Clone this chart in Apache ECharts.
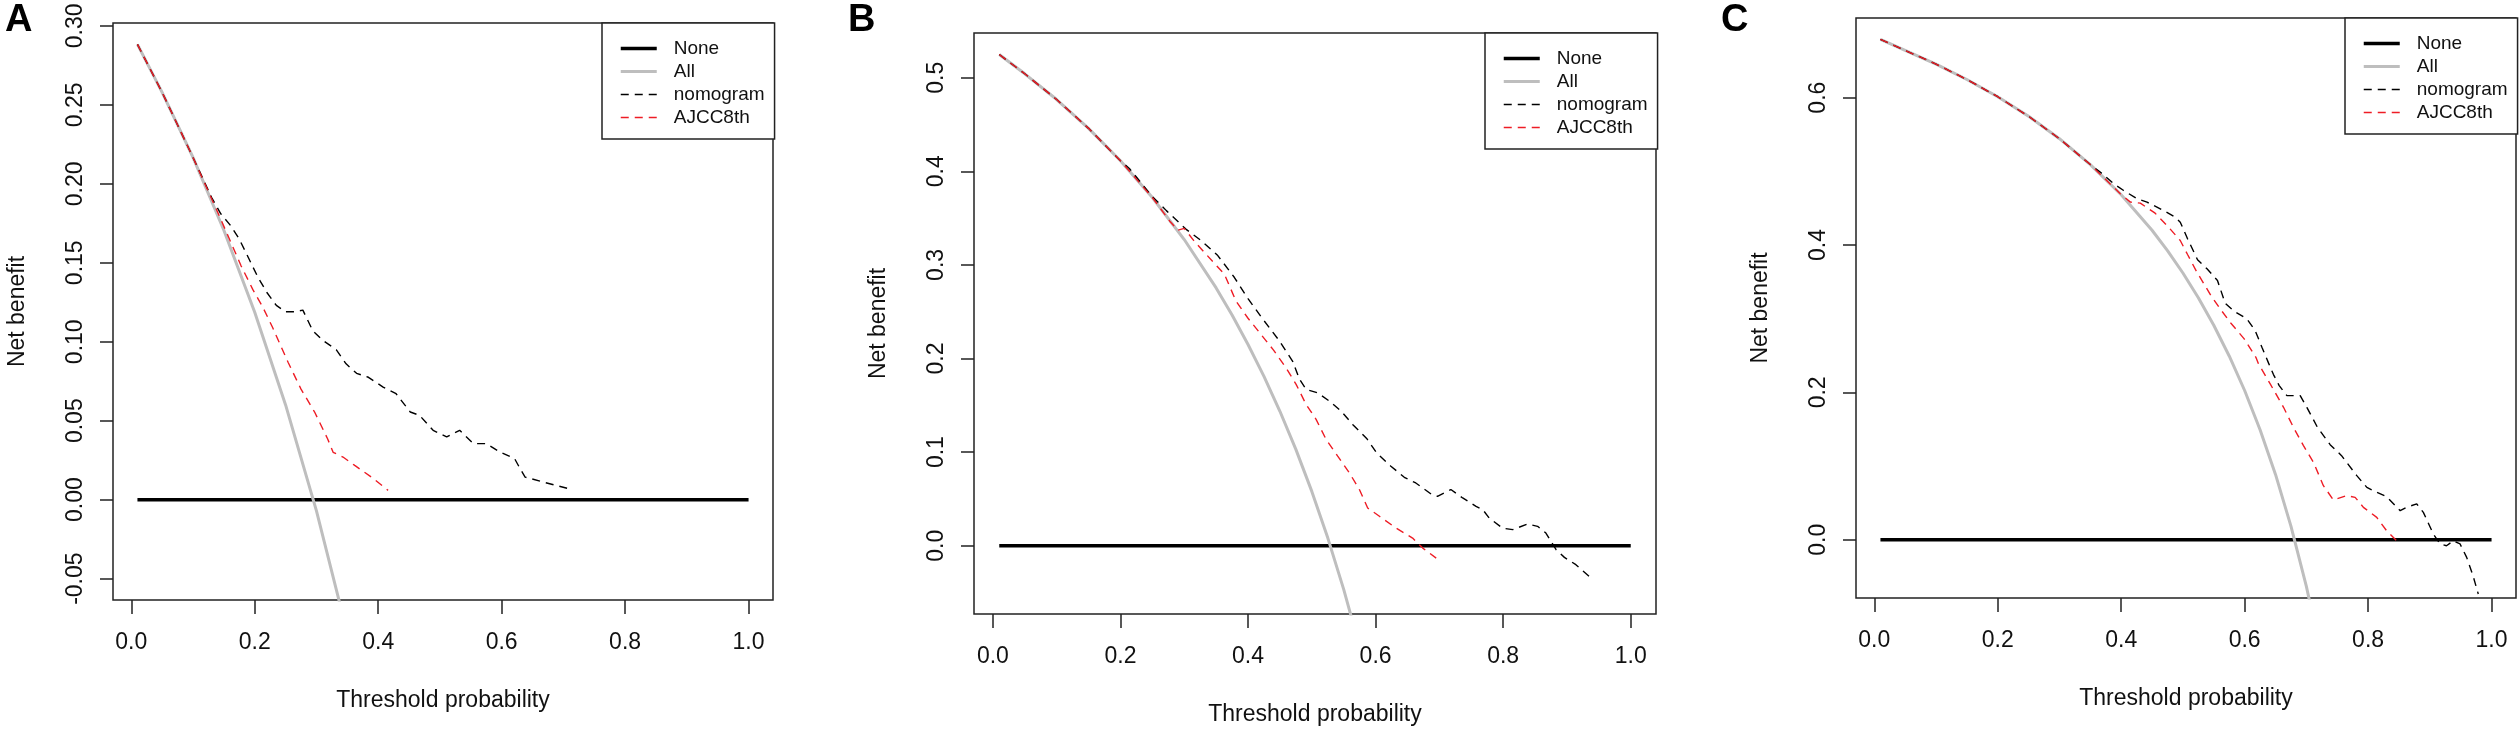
<!DOCTYPE html>
<html><head><meta charset="utf-8">
<script src="https://cdn.jsdelivr.net/npm/echarts@6/dist/echarts.min.js"></script>
<style>html,body{margin:0;padding:0;background:#fff}#c{width:2520px;height:733px}</style>
</head><body><div id="c"></div>
<script>
// ---------- data ----------
const X_TICKS = [0, 0.2, 0.4, 0.6, 0.8, 1.0];
const A_YTICKS = [-0.05, 0, 0.05, 0.10, 0.15, 0.20, 0.25, 0.30];
const B_YTICKS = [0, 0.1, 0.2, 0.3, 0.4, 0.5];
const C_YTICKS = [0, 0.2, 0.4, 0.6];
const SERIES_NAMES = ['None', 'All', 'nomogram', 'AJCC8th'];
const PANEL_LETTERS = ['A', 'B', 'C'];

const NONE_LINE = [[0.01, 0], [1.0, 0]];

const A_all = [[0.01,0.2883],[0.05,0.2579],[0.10,0.2167],[0.15,0.1706],[0.20,0.1187],[0.25,0.0600],[0.30,-0.0071],[0.35,-0.0846]];
const A_nom = [[0.01,0.2883],[0.05,0.2579],[0.10,0.2167],[0.13,0.1915],[0.145,0.181],[0.16,0.174],[0.175,0.165],[0.19,0.153],[0.205,0.141],[0.22,0.131],[0.235,0.123],[0.25,0.119],[0.265,0.119],[0.278,0.120],[0.294,0.107],[0.31,0.101],[0.332,0.095],[0.348,0.086],[0.365,0.080],[0.383,0.0777],[0.408,0.0713],[0.429,0.0671],[0.452,0.0555],[0.467,0.0534],[0.489,0.0439],[0.511,0.0397],[0.532,0.0439],[0.554,0.0355],[0.575,0.0355],[0.597,0.0302],[0.621,0.026],[0.63,0.0196],[0.638,0.0143],[0.667,0.0112],[0.708,0.007]];
const A_ajcc = [[0.01,0.2883],[0.05,0.2579],[0.10,0.2167],[0.14,0.182],[0.159,0.165],[0.178,0.148],[0.197,0.133],[0.213,0.122],[0.229,0.109],[0.254,0.087],[0.275,0.070],[0.297,0.0555],[0.318,0.0386],[0.327,0.030],[0.343,0.027],[0.362,0.0217],[0.389,0.0143],[0.416,0.0059]];

const B_all = [[0.01,0.5248],[0.05,0.5042],[0.10,0.4767],[0.15,0.4459],[0.20,0.4113],[0.25,0.372],[0.30,0.3271],[0.35,0.2754],[0.375,0.2464],[0.40,0.215],[0.425,0.1809],[0.45,0.1436],[0.475,0.1029],[0.50,0.058],[0.525,0.0084],[0.55,-0.0467],[0.575,-0.1082]];
const B_nom = [[0.01,0.5248],[0.05,0.5042],[0.10,0.4767],[0.15,0.4459],[0.20,0.4113],[0.214,0.403],[0.25,0.373],[0.272,0.358],[0.303,0.338],[0.3265,0.326],[0.3526,0.310],[0.3787,0.2865],[0.40,0.264],[0.42,0.245],[0.449,0.219],[0.47,0.197],[0.4806,0.178],[0.491,0.167],[0.509,0.1634],[0.5276,0.1545],[0.546,0.1438],[0.564,0.1296],[0.586,0.1146],[0.6017,0.0991],[0.624,0.0849],[0.645,0.0731],[0.663,0.067],[0.687,0.0552],[0.697,0.0528],[0.718,0.06],[0.7365,0.051],[0.7575,0.0421],[0.768,0.0385],[0.778,0.0296],[0.799,0.0188],[0.815,0.0171],[0.838,0.0231],[0.854,0.0207],[0.867,0.0135],[0.883,-0.0043],[0.896,-0.0125],[0.914,-0.0203],[0.935,-0.0329]];
const B_ajcc = [[0.01,0.5248],[0.05,0.5042],[0.10,0.4767],[0.15,0.4459],[0.20,0.4113],[0.25,0.372],[0.277,0.347],[0.29,0.337],[0.30,0.339],[0.315,0.326],[0.3317,0.3133],[0.363,0.290],[0.381,0.2616],[0.40,0.243],[0.42,0.226],[0.44,0.209],[0.4597,0.190],[0.4754,0.1724],[0.491,0.151],[0.5067,0.135],[0.5224,0.1135],[0.5406,0.0956],[0.559,0.0777],[0.5746,0.060],[0.5876,0.0403],[0.606,0.0314],[0.632,0.0188],[0.658,0.0081],[0.674,-0.0026],[0.695,-0.0133]];

const C_all = [[0.01,0.679],[0.05,0.6642],[0.10,0.6456],[0.15,0.6247],[0.20,0.6013],[0.25,0.5747],[0.30,0.5443],[0.35,0.5092],[0.40,0.4683],[0.45,0.420],[0.475,0.3924],[0.50,0.362],[0.525,0.3284],[0.55,0.2911],[0.575,0.2494],[0.60,0.2025],[0.625,0.1493],[0.65,0.0886],[0.675,0.0185],[0.70,-0.0633],[0.725,-0.160]];
const C_nom = [[0.01,0.679],[0.05,0.6642],[0.10,0.6456],[0.15,0.6247],[0.20,0.6013],[0.25,0.5747],[0.30,0.5443],[0.35,0.5092],[0.366,0.499],[0.388,0.4832],[0.404,0.474],[0.4256,0.4628],[0.4418,0.4582],[0.4633,0.4492],[0.4876,0.4378],[0.4957,0.431],[0.5075,0.4085],[0.5237,0.380],[0.539,0.3677],[0.556,0.3518],[0.5685,0.321],[0.583,0.310],[0.6036,0.2998],[0.617,0.284],[0.628,0.2612],[0.6386,0.240],[0.6467,0.2241],[0.656,0.2092],[0.6684,0.1956],[0.690,0.1956],[0.7008,0.1797],[0.718,0.1525],[0.7385,0.129],[0.757,0.1141],[0.7817,0.0869],[0.798,0.071],[0.814,0.0643],[0.830,0.0584],[0.852,0.0394],[0.862,0.0439],[0.8788,0.0485],[0.8895,0.0371],[0.9057,0.0077],[0.9165,-0.0058],[0.927,-0.0082],[0.938,-0.0014],[0.949,-0.0058],[0.9597,-0.024],[0.970,-0.0489],[0.9785,-0.0738]];
const C_ajcc = [[0.01,0.679],[0.05,0.6642],[0.10,0.6456],[0.15,0.6247],[0.20,0.6013],[0.25,0.5747],[0.30,0.5443],[0.35,0.5092],[0.3986,0.4696],[0.415,0.4582],[0.431,0.4568],[0.455,0.4432],[0.4768,0.4242],[0.4957,0.4061],[0.5075,0.3871],[0.5227,0.3631],[0.5454,0.3314],[0.5616,0.312],[0.5778,0.2938],[0.5993,0.2726],[0.6182,0.2476],[0.6224,0.2387],[0.6414,0.2115],[0.663,0.1797],[0.679,0.1525],[0.6953,0.1277],[0.7115,0.105],[0.7276,0.0733],[0.7438,0.0539],[0.7655,0.0598],[0.779,0.0575],[0.7924,0.0439],[0.814,0.0303],[0.830,0.0122],[0.849,-0.0037]];

// ---------- layout / style ----------
const FONT = '"Liberation Sans", Arial, Helvetica, sans-serif';
const TXT = '#111';
const AXC = '#222';
const LINE_STYLES = [
  {color:'#000', width:3.5},
  {color:'#bebebe', width:3},
  {color:'#000', width:1.4, type:[8,6]},
  {color:'#ee1c25', width:1.4, type:[8,6]}
];
const panels = [
  {grid:{left:113, top:23, width:660, height:577}, ymin:-0.06353, ymax:0.30183, yticks:A_YTICKS, dec:2,
   all:A_all, nom:A_nom, ajcc:A_ajcc, legend:{left:602, top:23}, letter:{left:5, top:2}},
  {grid:{left:974, top:33, width:682, height:581}, ymin:-0.07299, ymax:0.54779, yticks:B_YTICKS, dec:1,
   all:B_all, nom:B_nom, ajcc:B_ajcc, legend:{left:1485, top:33}, letter:{left:848, top:2}},
  {grid:{left:1856, top:18, width:660, height:580}, ymin:-0.07916, ymax:0.70816, yticks:C_YTICKS, dec:1,
   all:C_all, nom:C_nom, ajcc:C_ajcc, legend:{left:2345, top:18}, letter:{left:1721, top:2}}
];

const grid = [], xAxis = [], yAxis = [], series = [], legend = [], title = [];
panels.forEach((p, i) => {
  grid.push(Object.assign({show:true, borderColor:AXC, borderWidth:1.5, backgroundColor:'transparent', outerBoundsMode:'none', containLabel:false}, p.grid));
  xAxis.push({
    type:'value', gridIndex:i, min:-0.0296, max:1.0396,
    axisLine:{show:false, onZero:false},
    axisTick:{show:true, inside:false, length:14, lineStyle:{color:AXC, width:1.5}, customValues:X_TICKS},
    axisLabel:{show:true, margin:31, fontSize:23, color:TXT, fontFamily:FONT, customValues:X_TICKS, formatter:v => v.toFixed(1)},
    splitLine:{show:false},
    name:'Threshold probability', nameLocation:'middle', nameGap:89,
    nameTextStyle:{fontSize:23, color:TXT, fontFamily:FONT}
  });
  yAxis.push({
    type:'value', gridIndex:i, min:p.ymin, max:p.ymax,
    axisLine:{show:false, onZero:false},
    axisTick:{show:true, inside:false, length:13, lineStyle:{color:AXC, width:1.5}, customValues:p.yticks},
    axisLabel:{show:true, rotate:90, margin:26, fontSize:23, color:TXT, fontFamily:FONT, customValues:p.yticks, formatter:v => v.toFixed(p.dec)},
    splitLine:{show:false},
    name:'Net benefit', nameLocation:'middle', nameRotate:90, nameGap:84,
    nameTextStyle:{fontSize:23, color:TXT, fontFamily:FONT}
  });
  const base = {type:'line', xAxisIndex:i, yAxisIndex:i, symbol:'none', showSymbol:false, clip:true, silent:true, animation:false, emphasis:{disabled:true}};
  const datas = [NONE_LINE, p.all, p.nom, p.ajcc];
  SERIES_NAMES.forEach((nm, k) => {
    series.push(Object.assign({}, base, {name:nm, data:datas[k], lineStyle:LINE_STYLES[k]}));
  });
  legend.push({
    data:SERIES_NAMES.map((nm, k) => ({name:nm, lineStyle:LINE_STYLES[k], itemStyle:{opacity:0}})),
    orient:'vertical', left:p.legend.left, top:p.legend.top,
    selectedMode:false, backgroundColor:'#fff', borderColor:AXC, borderWidth:1.5, borderRadius:0,
    padding:[16, 10, 12, 17], itemWidth:36, itemHeight:14, itemGap:4,
    itemStyle:{opacity:0},
    textStyle:{fontSize:19, lineHeight:19, color:TXT, fontFamily:FONT, padding:[0,0,0,12]}
  });
  title.push({text:PANEL_LETTERS[i], left:p.letter.left, top:p.letter.top, padding:0,
    textStyle:{fontSize:38, fontWeight:'bold', color:'#000', fontFamily:FONT}});
});

const chart = echarts.init(document.getElementById('c'), null, {renderer:'canvas'});
chart.setOption({animation:false, backgroundColor:'#fff', title, grid, xAxis, yAxis, legend, series});
</script>
</body></html>
